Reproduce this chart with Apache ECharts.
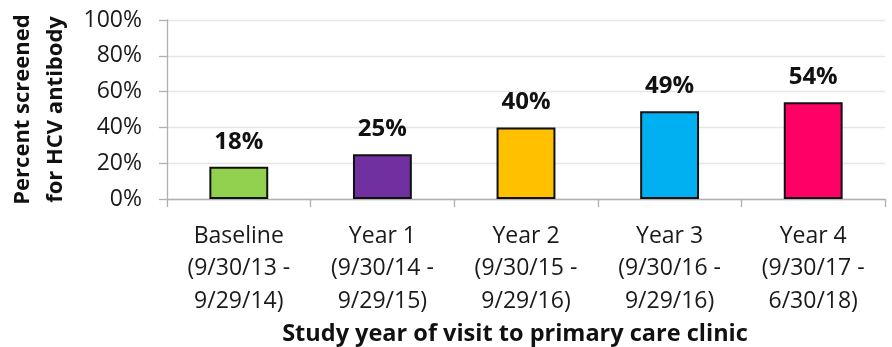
<!DOCTYPE html>
<html>
<head>
<meta charset="utf-8">
<style>
  html, body { margin: 0; padding: 0; background: #ffffff; }
  #chart { width: 892px; height: 347px; }
</style>
<script src="https://cdn.jsdelivr.net/npm/echarts@6/dist/echarts.min.js"></script>
</head>
<body>
<div id="chart"></div>
<script>
const categories = [
  'Baseline\n(9/30/13 -\n9/29/14)',
  'Year 1\n(9/30/14 -\n9/29/15)',
  'Year 2\n(9/30/15 -\n9/29/16)',
  'Year 3\n(9/30/16 -\n9/29/16)',
  'Year 4\n(9/30/17 -\n6/30/18)'
];
const percentScreened = [18, 25, 40, 49, 54];
const barColors = ['#92D050', '#7030A0', '#FFC000', '#00B0F0', '#FF0066'];
const yTickValues = [0, 20, 40, 60, 80, 100];

const FONT = '"Open Sans", sans-serif';
const chart = echarts.init(document.getElementById('chart'), null, { renderer: 'canvas' });

chart.setOption({
  animation: false,
  backgroundColor: '#ffffff',
  grid: { left: 167, right: 7, top: 20, bottom: 148, containLabel: false, outerBoundsMode: 'none' },
  xAxis: {
    type: 'category',
    data: categories,
    name: 'Study year of visit to primary care clinic',
    nameLocation: 'middle',
    nameGap: 122,
    nameTextStyle: {
      fontFamily: FONT, fontWeight: 'bold', fontSize: 23.5, color: '#111111',
      padding: [0, 22, 0, 0]
    },
    axisLine: { show: true, lineStyle: { color: '#b0b0b0', width: 1.3 } },
    axisTick: { show: true, alignWithLabel: false, length: 8, lineStyle: { color: '#b0b0b0', width: 1.3 } },
    axisLabel: {
      fontFamily: FONT, fontSize: 23, color: '#1a1a1a',
      lineHeight: 32.5, margin: 21, interval: 0
    }
  },
  yAxis: {
    type: 'value',
    min: yTickValues[0],
    max: yTickValues[yTickValues.length - 1],
    interval: 20,
    name: 'Percent screened\nfor HCV antibody',
    nameLocation: 'middle',
    nameRotate: 90,
    nameGap: 94,
    nameTextStyle: {
      fontFamily: FONT, fontWeight: 'bold', fontSize: 22, color: '#111111',
      lineHeight: 33
    },
    axisLine: { show: true, lineStyle: { color: '#b0b0b0', width: 1.3 } },
    axisTick: { show: true, length: 8, lineStyle: { color: '#b0b0b0', width: 1.3 } },
    splitLine: { show: true, lineStyle: { color: '#e6e6e6', width: 1.3 } },
    axisLabel: {
      fontFamily: FONT, fontSize: 23, color: '#1a1a1a', margin: 25,
      formatter: '{value}%'
    }
  },
  series: [{
    type: 'bar',
    barWidth: '41%',
    data: percentScreened.map((v, i) => ({
      value: v,
      itemStyle: { color: barColors[i], borderColor: '#111111', borderWidth: 2 }
    })),
    label: {
      show: true,
      position: 'top',
      distance: 13,
      fontFamily: FONT, fontWeight: 'bold', fontSize: 24, color: '#111111',
      formatter: '{c}%'
    }
  }]
});
</script>
</body>
</html>
